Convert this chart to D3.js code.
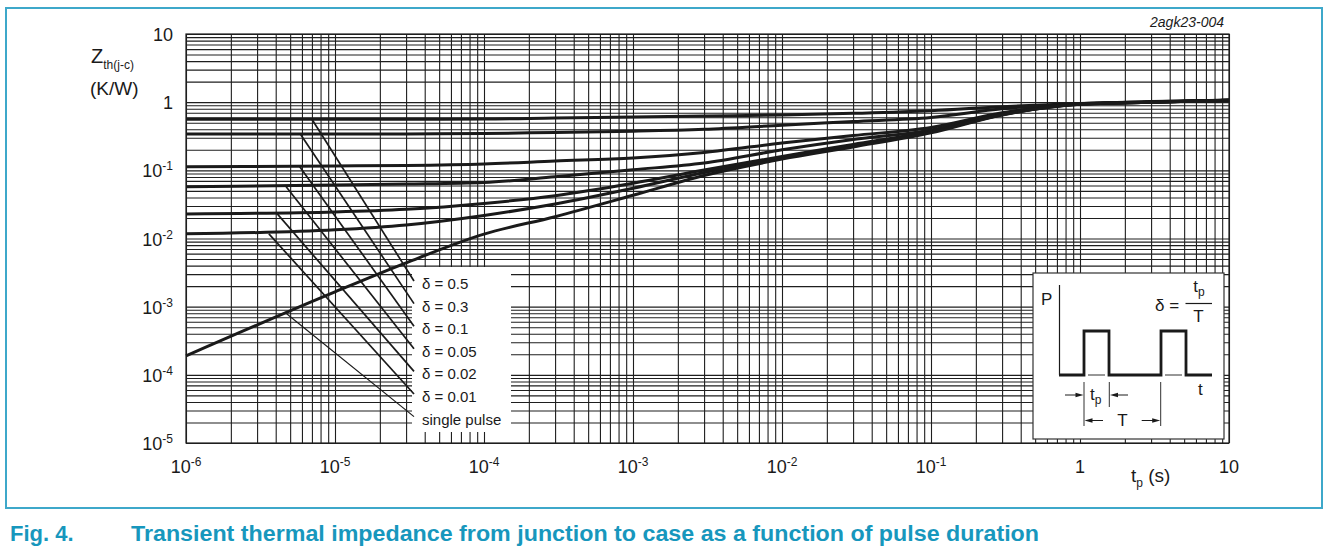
<!DOCTYPE html>
<html>
<head>
<meta charset="utf-8">
<script src="https://cdn.jsdelivr.net/npm/d3@7/dist/d3.min.js"></script>
<style>
body { margin: 0; background: #fff; }
svg text { font-family: "Liberation Sans", Arial, Helvetica, sans-serif; fill: #1a1a1a; }
</style>
</head>
<body>
<svg id="chart" width="1325" height="550"></svg>
<script>
// pulse duration (s) and Zth(j-c) (K/W)
var tp      = [1e-6, 1e-5, 3e-5, 1e-4, 3e-4, 1e-3, 3e-3, 1e-2, 3e-2, 0.1, 0.3, 1, 3, 10];
var zD05    = [0.561, 0.561, 0.562, 0.565, 0.585, 0.605, 0.625, 0.65, 0.685, 0.746, 0.86, 0.96, 1.02, 1.07];
var zD03    = [0.341, 0.341, 0.342, 0.346, 0.36, 0.375, 0.40, 0.46, 0.52, 0.596, 0.80, 0.95, 1.01, 1.07];
var zD01    = [0.113, 0.116, 0.118, 0.124, 0.137, 0.152, 0.183, 0.252, 0.324, 0.425, 0.70, 0.945, 1.0, 1.07];
var zD005   = [0.0575, 0.061, 0.063, 0.0664, 0.0807, 0.102, 0.128, 0.20, 0.283, 0.39, 0.67, 0.94, 1.0, 1.07];
var zD002   = [0.0229, 0.0245, 0.0268, 0.0327, 0.0425, 0.0647, 0.101, 0.16, 0.24, 0.375, 0.66, 0.94, 1.0, 1.07];
var zD001   = [0.0117, 0.0134, 0.0158, 0.0218, 0.032, 0.0545, 0.093, 0.155, 0.23, 0.365, 0.655, 0.935, 1.0, 1.07];
var zSingle = [1.9e-4, 1.65e-3, 4.4e-3, 0.0116, 0.0209, 0.043, 0.084, 0.146, 0.22, 0.355, 0.65, 0.93, 1.0, 1.07];

var legendLabels = ["δ = 0.5", "δ = 0.3", "δ = 0.1", "δ = 0.05", "δ = 0.02", "δ = 0.01", "single pulse"];
// where each leader line leaves its curve
var leadTp = [7.0e-6, 5.85e-6, 5.8e-6, 4.7e-6, 4.1e-6, 3.6e-6, 4.6e-6];
var leadZ  = [0.561, 0.341, 0.113, 0.0575, 0.023, 0.0117, 8.3e-4];

var xTicks = [1e-6, 1e-5, 1e-4, 1e-3, 1e-2, 1e-1, 1, 10];
var xTickBase = ["10", "10", "10", "10", "10", "10", "1", "10"];
var xTickExp  = ["-6", "-5", "-4", "-3", "-2", "-1", "", ""];
var yTicks = [1e-5, 1e-4, 1e-3, 1e-2, 1e-1, 1, 10];
var yTickBase = ["10", "10", "10", "10", "10", "1", "10"];
var yTickExp  = ["-5", "-4", "-3", "-2", "-1", "", ""];

var series = [zD05, zD03, zD01, zD005, zD002, zD001, zSingle];

var margin = {top: 34, right: 96, bottom: 107, left: 186},
    width = 1325 - margin.left - margin.right,
    height = 550 - margin.top - margin.bottom;

var svg = d3.select("#chart");

// figure frame
svg.append("rect")
    .attr("x", 6).attr("y", 8).attr("width", 1316).attr("height", 500)
    .attr("fill", "none").attr("stroke", "#3ea8ca").attr("stroke-width", 2);

var g = svg.append("g")
    .attr("transform", "translate(" + margin.left + "," + margin.top + ")");

var x = d3.scaleLog().domain([1e-6, 10]).range([0, width]);
var y = d3.scaleLog().domain([1e-5, 10]).range([height, 0]);

// log grid
g.append("g")
    .attr("class", "grid")
    .attr("transform", "translate(0," + height + ")")
    .call(d3.axisBottom(x).tickValues(x.ticks()).tickSize(-height).tickFormat(""));
g.append("g")
    .attr("class", "grid")
    .call(d3.axisLeft(y).tickValues(y.ticks()).tickSize(-width).tickFormat(""));
g.selectAll(".grid .domain").remove();
g.selectAll(".grid line").attr("stroke", "#1e1e1e").attr("stroke-width", 1.1);

g.append("rect")
    .attr("width", width).attr("height", height)
    .attr("fill", "none").attr("stroke", "#1e1e1e").attr("stroke-width", 1.2);

// legend panel (white patch over the grid)
var legX = 226, legY = 233, legW = 99, legH = 165;
g.append("rect")
    .attr("x", legX).attr("y", legY).attr("width", legW).attr("height", legH)
    .attr("fill", "#fff");

// inset panel
var ix = 847, iy = 239;
g.append("rect")
    .attr("x", ix).attr("y", iy).attr("width", 191).attr("height", 166)
    .attr("fill", "#fff").attr("stroke", "#333").attr("stroke-width", 1.2);

// curves
var line = d3.line()
    .x(function(d) { return x(d[0]); })
    .y(function(d) { return y(d[1]); })
    .curve(d3.curveMonotoneX);

series.forEach(function(vals) {
    g.append("path")
        .datum(tp.map(function(t, i) { return [t, vals[i]]; }))
        .attr("fill", "none")
        .attr("stroke", "#1a1a1a")
        .attr("stroke-width", 3)
        .attr("stroke-linejoin", "round")
        .attr("d", line);
});

// legend labels and leaders
var labX = legX + 10, lab0 = legY + 22, labStep = 22.6;
legendLabels.forEach(function(lab, i) {
    var by = lab0 + i * labStep;
    g.append("line")
        .attr("x1", x(leadTp[i])).attr("y1", y(leadZ[i]))
        .attr("x2", legX + 2).attr("y2", by - 8)
        .attr("stroke", "#1a1a1a")
        .attr("stroke-width", i == 6 ? 1.2 : 1.7);
    g.append("text")
        .attr("x", labX).attr("y", by)
        .style("font-size", "15px")
        .text(lab);
});

// tick labels
var xl = g.append("g").selectAll("text")
    .data(xTicks)
    .enter().append("text")
    .attr("x", function(d) { return x(d); })
    .attr("y", height + 30)
    .attr("text-anchor", "middle")
    .style("font-size", "18px");
xl.append("tspan").text(function(d, i) { return xTickBase[i]; });
xl.append("tspan").attr("dy", -7).style("font-size", "12px")
    .text(function(d, i) { return xTickExp[i]; });

var yl = g.append("g").selectAll("text")
    .data(yTicks)
    .enter().append("text")
    .attr("x", -13)
    .attr("y", function(d) { return y(d) + 7; })
    .attr("text-anchor", "end")
    .style("font-size", "18px");
yl.append("tspan").text(function(d, i) { return yTickBase[i]; });
yl.append("tspan").attr("dy", -7).style("font-size", "12px")
    .text(function(d, i) { return yTickExp[i]; });

// axis titles
var yt = svg.append("text").attr("x", 91).attr("y", 63).style("font-size", "20px");
yt.append("tspan").text("Z");
yt.append("tspan").attr("dy", 6).style("font-size", "12px").text("th(j-c)");
svg.append("text").attr("x", 90).attr("y", 95).style("font-size", "19px").text("(K/W)");

var xt = svg.append("text").attr("x", 1131).attr("y", 482).style("font-size", "19px");
xt.append("tspan").text("t");
xt.append("tspan").attr("dy", 5).style("font-size", "12px").text("p");
xt.append("tspan").attr("dy", -5).text(" (s)");

svg.append("text")
    .attr("x", 1224).attr("y", 27)
    .attr("text-anchor", "end")
    .style("font-size", "14px").style("font-style", "italic")
    .text("2agk23-004");

// caption
svg.append("text").attr("x", 10).attr("y", 541)
    .style("font-size", "22px").style("font-weight", "bold").style("fill", "#1797bd")
    .text("Fig. 4.");
svg.append("text").attr("x", 131).attr("y", 541)
    .attr("textLength", 908).attr("lengthAdjust", "spacingAndGlyphs")
    .style("font-size", "22px").style("font-weight", "bold").style("fill", "#1797bd")
    .text("Transient thermal impedance from junction to case as a function of pulse duration");

// inset: pulse train sketch
var ins = g.append("g").attr("transform", "translate(" + ix + "," + iy + ")");
var ink = "#1a1a1a";
ins.append("text").attr("x", 8).attr("y", 32).style("font-size", "17px").text("P");
ins.append("line").attr("x1", 26.5).attr("y1", 12).attr("x2", 26.5).attr("y2", 102)
    .attr("stroke", ink).attr("stroke-width", 1.2);
ins.append("path")
    .attr("d", "M26,102H51V58H76V102H128V58H153V102H179")
    .attr("fill", "none").attr("stroke", ink).attr("stroke-width", 2.8);
[[55, 72], [132, 149]].forEach(function(s) {
    ins.append("line").attr("x1", s[0]).attr("x2", s[1]).attr("y1", 102).attr("y2", 102)
        .attr("stroke", "#fff").attr("stroke-width", 3.2);
    ins.append("line").attr("x1", s[0]).attr("x2", s[1]).attr("y1", 102).attr("y2", 102)
        .attr("stroke", ink).attr("stroke-width", 0.9);
});
ins.append("text").attr("x", 165).attr("y", 122).style("font-size", "17px").text("t");

ins.append("text").attr("x", 122).attr("y", 38).style("font-size", "17px").text("δ =");
var num = ins.append("text").attr("x", 166).attr("y", 19).attr("text-anchor", "middle").style("font-size", "17px");
num.append("tspan").text("t");
num.append("tspan").attr("dy", 4).style("font-size", "12px").text("p");
ins.append("line").attr("x1", 152.5).attr("x2", 179).attr("y1", 30.5).attr("y2", 30.5)
    .attr("stroke", ink).attr("stroke-width", 1.2);
ins.append("text").attr("x", 165.5).attr("y", 49).attr("text-anchor", "middle").style("font-size", "17px").text("T");

// dimension marks
[[51, 109, 153], [76.3, 109, 134], [127.7, 109, 153]].forEach(function(v) {
    ins.append("line").attr("x1", v[0]).attr("x2", v[0]).attr("y1", v[1]).attr("y2", v[2])
        .attr("stroke", ink).attr("stroke-width", 0.9);
});
function arrow(x1, x2, yy) {
    var dir = x2 > x1 ? 1 : -1;
    ins.append("line").attr("x1", x1).attr("x2", x2 - dir * 6).attr("y1", yy).attr("y2", yy)
        .attr("stroke", ink).attr("stroke-width", 1);
    ins.append("path")
        .attr("d", "M" + x2 + "," + yy + "L" + (x2 - dir * 8) + "," + (yy - 2.3) + "L" + (x2 - dir * 8) + "," + (yy + 2.3) + "Z")
        .attr("fill", ink);
}
arrow(32, 50.5, 122);
arrow(95, 77, 122);
arrow(70, 51.5, 147.5);
arrow(108.7, 127.2, 147.5);
var tpl = ins.append("text").attr("x", 57).attr("y", 127).style("font-size", "17px");
tpl.append("tspan").text("t");
tpl.append("tspan").attr("dy", 4).style("font-size", "12px").text("p");
ins.append("text").attr("x", 89.5).attr("y", 153).attr("text-anchor", "middle").style("font-size", "17px").text("T");
</script>
</body>
</html>
